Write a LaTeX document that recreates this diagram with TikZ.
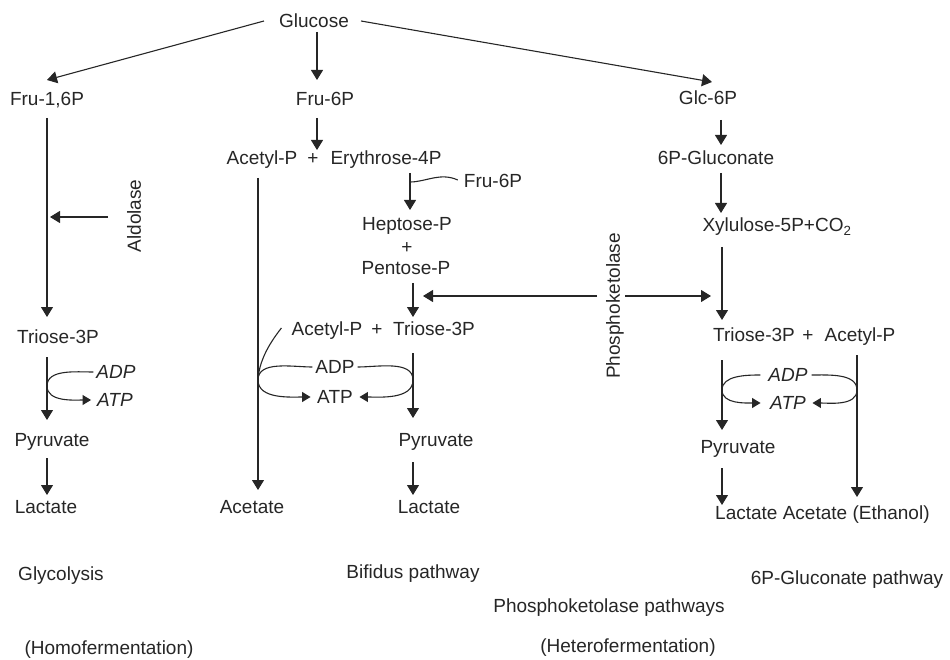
\documentclass[tikz,border=0pt]{standalone}
\usepackage{fontspec}
\setmainfont{Liberation Sans}
\usetikzlibrary{arrows.meta}
\begin{document}
\begin{tikzpicture}[x=1pt,y=-1pt,
  lbl/.style={inner sep=0pt, text height=13.6pt, text depth=0pt, font=\fontsize{19}{22}\selectfont, text=black!85},
  ilbl/.style={lbl, font=\fontsize{19}{22}\selectfont\itshape},
  ln/.style={draw=black!85, line width=1.1pt},
  arr/.style={ln, -{Triangle[length=10pt,width=12pt]}},
  sarr/.style={ln, -{Triangle[length=8.5pt,width=10pt]}}]
\useasboundingbox (0,0) rectangle (950,660);

% nodes
\node[lbl] (glucose) at (314,21) {Glucose};
\node[lbl] (fru16p) at (47,99) {Fru-1,6P};
\node[lbl] (fru6p) at (325,99) {Fru-6P};
\node[lbl] (glc6p) at (708,98) {Glc-6P};
\node[lbl] (acetylA) at (262,158) {Acetyl-P};
\node[lbl] (plusA) at (313,158) {+};
\node[lbl] (ery4p) at (386,158) {Erythrose-4P};
\node[lbl] (gluconate) at (716,158) {6P-Gluconate};
\node[lbl] (fru6pB) at (493,181) {Fru-6P};
\node[lbl] (heptose) at (407,224) {Heptose-P};
\node[lbl] (plusB) at (407,247) {+};
\node[lbl] (pentose) at (406,268) {Pentose-P};
\node[lbl] (xylulose) at (777,225) {Xylulose-5P+CO\textsubscript{2}};
\node[lbl,rotate=90] (aldolase) at (134,216) {Aldolase};
\node[lbl,rotate=90] (pk) at (613,306) {Phosphoketolase};
\node[lbl] (triose3pA) at (58,337) {Triose-3P};
\node[lbl] (acetylB) at (327,329) {Acetyl-P};
\node[lbl] (plusC) at (377,329) {+};
\node[lbl] (triose3pB) at (434,329) {Triose-3P};
\node[lbl] (triose3pC) at (754,335) {Triose-3P};
\node[lbl] (plusD) at (808,335) {+};
\node[lbl] (acetylC) at (860,335) {Acetyl-P};
\node[ilbl] (adpA) at (116,372) {ADP};
\node[ilbl] (atpA) at (115,400) {ATP};
\node[lbl] (adpB) at (335,367) {ADP};
\node[lbl] (atpB) at (335,397) {ATP};
\node[ilbl] (adpC) at (788,375) {ADP};
\node[ilbl] (atpC) at (788,403) {ATP};
\node[lbl] (pyrA) at (52,440) {Pyruvate};
\node[lbl] (pyrB) at (436,440) {Pyruvate};
\node[lbl] (pyrC) at (738,447) {Pyruvate};
\node[lbl] (lactA) at (46,507) {Lactate};
\node[lbl] (acetate) at (252,507) {Acetate};
\node[lbl] (lactB) at (429,507) {Lactate};
\node[lbl,anchor=west] (finalC) at (715,513) {Lactate Acetate (Ethanol)};

\node[lbl] (glyco) at (61,574) {Glycolysis};
\node[lbl] (bifidus) at (413,572) {Bifidus pathway};
\node[lbl] (gpath) at (847,578) {6P-Gluconate pathway};
\node[lbl] (pkpath) at (609,606) {Phosphoketolase pathways};
\node[lbl] (homo) at (109,648) {(Homofermentation)};
\node[lbl] (hetero) at (628,646) {(Heterofermentation)};

% free ends
\coordinate (aldoTip) at (50,217);
\coordinate (eryJoin) at (410,182);
\coordinate (pkL) at (423,296);
\coordinate (pkR) at (711,296);
\coordinate (loopAL) at (47,386);
\coordinate (loopBL) at (258,380);
\coordinate (loopBR) at (413,380);
\coordinate (loopCL) at (722,390);
\coordinate (loopCR) at (857,390);

% Glucose branches
\draw[arr] ([xshift=-15pt]glucose.west) -- ([yshift=12pt]fru16p.north);
\draw[arr] ([xshift=3pt,yshift=-4pt]glucose.south) -- ([xshift=-8pt,yshift=12pt]fru6p.north);
\draw[arr] ([xshift=12pt]glucose.east) -- ([xshift=4pt,yshift=9pt]glc6p.north);

% glycolysis
\draw[arr] ([yshift=-12pt]fru16p.south) -- ([xshift=-11pt,yshift=13pt]triose3pA.north);
\draw[arr] ([xshift=-26pt,yshift=-1pt]aldolase.center) -- (aldoTip);
\draw[arr] ([xshift=-11pt,yshift=-13pt]triose3pA.south) -- ([xshift=-5pt,yshift=13pt]pyrA.north);
\draw[arr] ([xshift=-5pt,yshift=-11pt]pyrA.south) -- ([xshift=1pt,yshift=5pt]lactA.north);
\draw[ln] ([xshift=-3pt]adpA.west) to[out=180,in=90,looseness=0.9] (loopAL);
\draw[sarr] (loopAL) to[out=-90,in=180,looseness=0.9] ([xshift=-6pt]atpA.west);

% bifidus
\draw[arr] ([xshift=-8pt,yshift=-12pt]fru6p.south) -- ([xshift=4pt,yshift=1pt]plusA.north);
\draw[arr] ([xshift=24pt,yshift=-8pt]ery4p.south) -- ([xshift=3pt,yshift=7pt]heptose.north);
\draw[ln] ([xshift=-6pt,yshift=1pt]fru6pB.west) .. controls (440,172) and (426,182) .. (eryJoin);
\draw[arr] ([xshift=7pt,yshift=-8pt]pentose.south) -- ([xshift=-21pt,yshift=5pt]triose3pB.north);
\draw[arr] ([xshift=-21pt,yshift=-17pt]triose3pB.south) -- ([xshift=-23pt,yshift=15pt]pyrB.north);
\draw[arr] ([xshift=-23pt,yshift=-15pt]pyrB.south) -- ([xshift=-16pt,yshift=5pt]lactB.north);
\draw[arr] ([xshift=-4pt,yshift=-13pt]acetylA.south) -- ([xshift=6pt,yshift=10pt]acetate.north);
\draw[ln] ([xshift=-10pt,yshift=1pt]acetylB.west) .. controls (268,345) and (259,362) .. (loopBL);
\draw[ln] ([xshift=-3pt]adpB.west) to[out=180,in=90,looseness=0.9] (loopBL);
\draw[sarr] (loopBL) to[out=-90,in=180,looseness=0.9] ([xshift=-6.5pt]atpB.west);
\draw[ln] ([xshift=3pt]adpB.east) to[out=0,in=90,looseness=0.9] (loopBR);
\draw[sarr] (loopBR) to[out=-90,in=0,looseness=0.9] ([xshift=6.5pt]atpB.east);

% phosphoketolase
\draw[arr] ([xshift=-16pt,yshift=10pt]pk.center) -- (pkL);
\draw[arr] ([xshift=12pt,yshift=10pt]pk.center) -- (pkR);

% 6P-gluconate
\draw[arr] ([xshift=13pt,yshift=-15pt]glc6p.south) -- ([xshift=5pt,yshift=6pt]gluconate.north);
\draw[arr] ([xshift=5pt,yshift=-8pt]gluconate.south) -- ([xshift=-56pt,yshift=5pt]xylulose.north);
\draw[arr] ([xshift=-55pt,yshift=-15pt]xylulose.south) -- ([xshift=-32pt,yshift=8pt]triose3pC.north);
\draw[arr] ([xshift=-32pt,yshift=-18pt]triose3pC.south) -- ([xshift=-16pt,yshift=10pt]pyrC.north);
\draw[arr] ([xshift=-3pt,yshift=-13pt]acetylC.south) -- ([xshift=142pt,yshift=9pt]finalC.north west);
\draw[arr] ([xshift=-16pt,yshift=-14pt]pyrC.south) -- ([xshift=7pt,yshift=1pt]finalC.north west);
\draw[ln] ([xshift=-8pt]adpC.west) to[out=180,in=90,looseness=0.9] (loopCL);
\draw[sarr] (loopCL) to[out=-90,in=180,looseness=0.9] ([xshift=-9.5pt]atpC.west);
\draw[ln] ([xshift=4pt]adpC.east) to[out=0,in=90,looseness=0.9] (loopCR);
\draw[sarr] (loopCR) to[out=-90,in=0,looseness=0.9] ([xshift=6.5pt]atpC.east);
\end{tikzpicture}
\end{document}
